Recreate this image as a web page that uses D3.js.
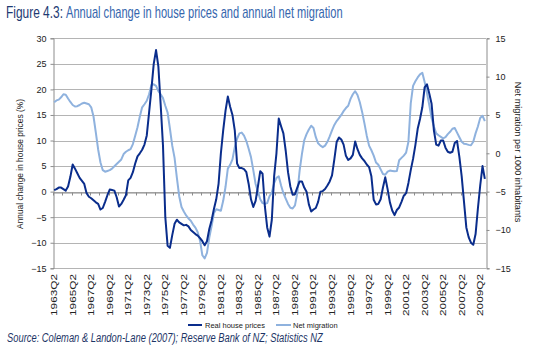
<!DOCTYPE html>
<html><head><meta charset="utf-8">
<script src="https://cdn.jsdelivr.net/npm/d3@7"></script>
<style>body{margin:0;background:#fff}svg{display:block}</style>
</head><body>
<svg id="c" width="540" height="357"></svg>
<script>
const startYear = 1963, startQuarter = 2, nQuarters = 187;
const quarters = [];
for (let k = 0; k < nQuarters; k++) {
  const q = startQuarter - 1 + k;
  quarters.push((startYear + Math.floor(q / 4)) + "Q" + (q % 4 + 1));
}
const xTickLabels = ["1963Q2","1965Q2","1967Q2","1969Q2","1971Q2","1973Q2","1975Q2","1977Q2",
  "1979Q2","1981Q2","1983Q2","1985Q2","1987Q2","1989Q2","1991Q2","1993Q2","1995Q2","1997Q2",
  "1999Q2","2001Q2","2003Q2","2005Q2","2007Q2","2009Q2"];
const leftTicks = [-15,-10,-5,0,5,10,15,20,25,30];
const rightTicks = [-15,-10,-5,0,5,10,15];
const seriesNames = ["Real house prices","Net migration"];

const housePrices = [
  0.3, 0.5, 0.8, 0.8, 0.5, 0.2, 1.0, 2.9, 5.3, 4.5,
  3.6, 2.7, 2.1, 1.5, -0.3, -1.0, -1.3, -1.7, -2.1, -2.4,
  -3.5, -3.2, -2.0, -0.7, 0.4, 0.3, 0.2, -1.1, -2.9, -2.4,
  -1.6, -0.7, 2.2, 2.7, 3.8, 5.5, 6.9, 7.5, 8.2, 9.2,
  11.0, 15.5, 20.0, 25.0, 27.7, 24.5, 17.0, 9.0, -5.0, -10.6,
  -11.0, -8.5, -6.3, -5.5, -6.0, -6.3, -6.6, -6.5, -6.8, -7.5,
  -7.9, -8.3, -8.6, -9.1, -9.7, -10.5, -9.7, -7.3, -5.6, -3.4,
  -1.5, 1.5, 7.5, 12.0, 15.8, 18.6, 16.6, 15.0, 12.0, 5.5,
  4.6, 4.6, 4.4, 3.8, 1.5, -1.5, -3.0, -1.8, 1.0, 4.0,
  3.5, -2.9, -7.0, -8.8, -5.5, 3.0, 7.5, 14.3, 12.8, 11.4,
  8.0, 3.8, 1.0, -0.6, -0.5, 0.8, 2.0, 2.0, 0.8, 0.0,
  -2.5, -3.9, -3.5, -3.2, -2.0, 0.0, 0.1, 0.5, 1.2, 2.0,
  3.2, 6.3, 9.7, 10.6, 10.2, 9.2, 7.0, 6.2, 6.5, 7.2,
  9.8, 8.3, 7.2, 6.5, 6.0, 5.3, 4.8, 3.0, -1.6, -2.5,
  -2.4, -1.5, 0.8, 2.8, 0.5, -2.1, -3.7, -4.6, -3.6, -3.1,
  -2.0, -0.8, -0.3, 1.7, 4.2, 6.4, 9.1, 12.3, 14.2, 16.5,
  20.4, 21.0, 19.2, 17.2, 12.0, 9.2, 9.0, 10.0, 10.0, 8.6,
  7.8, 7.6, 7.8, 9.5, 9.9, 6.8, 3.0, -2.0, -7.0, -8.9,
  -10.0, -10.4, -8.3, -3.3, 1.2, 5.0, 2.5
];
const netMigration = [
  6.65, 6.9, 7.0, 7.3, 7.7, 7.65, 7.15, 6.7, 6.3, 6.1,
  6.15, 6.3, 6.5, 6.6, 6.5, 6.4, 6.0, 4.8, 2.7, 0.5,
  -1.2, -2.2, -2.4, -2.3, -2.2, -2.0, -1.7, -1.4, -1.1, -0.8,
  -0.1, 0.2, 0.4, 0.55, 1.2, 2.3, 3.4, 4.8, 6.0, 6.4,
  6.85, 7.7, 8.9, 9.0, 8.8, 8.1, 7.7, 7.2, 6.2, 5.3,
  3.2, 1.0, -0.6, -3.2, -5.6, -7.0, -7.6, -8.1, -8.5, -8.8,
  -9.3, -9.7, -10.3, -11.4, -13.3, -13.7, -13.0, -11.0, -9.5, -7.8,
  -7.3, -7.4, -7.5, -6.2, -4.4, -2.0, -1.5, -0.8, 0.8, 1.9,
  2.6, 2.7, 2.3, 1.6, 0.6, -0.5, -2.2, -4.0, -5.0, -6.0,
  -6.5, -6.6, -6.5, -5.6, -5.1, -3.9, -3.2, -3.0, -4.2, -5.2,
  -5.9, -6.6, -7.1, -7.2, -6.8, -5.2, -2.3, -0.1, 1.7, 2.5,
  3.1, 3.6, 3.3, 2.1, 1.3, 1.0, 0.8, 1.0, 1.5, 2.2,
  3.0, 3.7, 4.2, 4.6, 5.0, 5.5, 5.9, 6.2, 7.1, 7.7,
  8.1, 7.6, 6.65, 5.4, 3.9, 2.3, 1.0, 0.4, -0.3, -1.2,
  -1.5, -2.1, -2.7, -2.8, -2.4, -2.25, -2.3, -2.35, -2.3, -0.9,
  -0.6, -0.3, 0.1, 1.5, 6.5, 8.8, 9.4, 9.9, 10.3, 10.5,
  9.3, 7.9, 6.3, 4.6, 3.5, 2.6, 2.35, 2.15, 1.95, 2.1,
  2.5, 2.8, 3.2, 3.3, 2.7, 2.1, 1.5, 1.25, 1.2, 1.1,
  1.05, 1.5, 2.6, 3.5, 4.6, 4.9, 4.2
];

const svg = d3.select("#c");
const L = 53, R = 486, T = 38.3, B = 268.3;
const darkCol = "#0a2d8c", lightCol = "#8fb2de";
const gridCol = "#b4b4b4", axisCol = "#8c8c8c";
const fontAxis = "'Liberation Sans', Arial, sans-serif";
const fontNarrow = "'Liberation Sans Narrow', 'Arial Narrow', 'Liberation Sans', sans-serif";

const x = d3.scaleBand().domain(quarters).range([L, R]).paddingInner(0).paddingOuter(0);
const bw = x.bandwidth();
const yL = d3.scaleLinear().domain([-15, 30]).range([B, T]);
const yR = d3.scaleLinear().domain([-15, 15]).range([B, T]);

// gridlines
svg.append("g").selectAll("line").data(leftTicks).join("line")
  .attr("x1", L).attr("x2", R)
  .attr("y1", d => Math.round(yL(d)) + 0.5).attr("y2", d => Math.round(yL(d)) + 0.5)
  .attr("stroke", gridCol).attr("stroke-width", 1);

// left axis
const gL = svg.append("g").attr("transform", `translate(${L + 0.5},0)`)
  .call(d3.axisLeft(yL).tickValues(leftTicks).tickSize(3).tickPadding(4).tickFormat(d3.format("d")));
gL.select(".domain").attr("stroke", axisCol);
gL.selectAll(".tick line").attr("stroke", axisCol);
gL.selectAll("text").attr("font-family", fontAxis).attr("font-size", 9).attr("fill", "#222");

// right axis
const gR = svg.append("g").attr("transform", `translate(${R + 0.5},0)`)
  .call(d3.axisRight(yR).tickValues(rightTicks).tickSize(3).tickPadding(6).tickFormat(d3.format("d")));
gR.select(".domain").attr("stroke", axisCol);
gR.selectAll(".tick line").attr("stroke", axisCol);
gR.selectAll("text").attr("font-family", fontAxis).attr("font-size", 9).attr("fill", "#222");

// category axis at zero
const y0 = Math.round(yL(0)) + 0.5;
const tickQuarters = quarters.filter((q, i) => i % 4 === 0 && i > 0);
const gX = svg.append("g").attr("transform", `translate(0,${y0})`)
  .call(d3.axisBottom(x).tickValues(tickQuarters).tickSize(3).tickFormat(""));
gX.select(".domain").attr("stroke", axisCol);
gX.selectAll(".tick").attr("transform", d => `translate(${Math.round(x(d)) + 0.5},0)`);
gX.selectAll(".tick line").attr("stroke", axisCol);

// category labels (rotated)
svg.append("g").selectAll("text").data(xTickLabels).join("text")
  .attr("transform", d => `translate(${x(d) + bw / 2 + 3},274) rotate(-90)`)
  .attr("text-anchor", "end")
  .attr("font-family", fontAxis).attr("font-size", 9).attr("fill", "#222")
  .attr("textLength", 42).attr("lengthAdjust", "spacingAndGlyphs")
  .text(d => d);

// lines
const lineL = d3.line().x((d, i) => x(quarters[i]) + bw / 2).y(d => yL(d));
const lineR = d3.line().x((d, i) => x(quarters[i]) + bw / 2).y(d => yR(d));
svg.append("path").datum(netMigration).attr("d", lineR)
  .attr("fill", "none").attr("stroke", lightCol).attr("stroke-width", 2).attr("stroke-linejoin", "round");
svg.append("path").datum(housePrices).attr("d", lineL)
  .attr("fill", "none").attr("stroke", darkCol).attr("stroke-width", 2).attr("stroke-linejoin", "round");

// axis titles
svg.append("text").attr("transform", "translate(23,164) rotate(-90)")
  .attr("text-anchor", "middle").attr("font-family", fontAxis).attr("font-size", 8.4).attr("fill", "#222")
  .text("Annual change in house prices (%)");
svg.append("text").attr("transform", "translate(515,152) rotate(90)")
  .attr("text-anchor", "middle").attr("font-family", fontAxis).attr("font-size", 9.2).attr("fill", "#222")
  .text("Net migration per 1000 inhabitants");

// legend
const leg = svg.append("g");
const legItems = [
  {name: seriesNames[0], col: darkCol, x1: 188, x2: 202, tx: 205},
  {name: seriesNames[1], col: lightCol, x1: 276, x2: 291, tx: 293}
];
leg.selectAll("line").data(legItems).join("line")
  .attr("x1", d => d.x1).attr("x2", d => d.x2).attr("y1", 325).attr("y2", 325)
  .attr("stroke", d => d.col).attr("stroke-width", 2);
leg.selectAll("text").data(legItems).join("text")
  .attr("x", d => d.tx).attr("y", 327.5)
  .attr("font-family", fontAxis).attr("font-size", 7.5).attr("fill", "#222")
  .text(d => d.name);

// condensed text helper: horizontally scale a text to a target width
function condensed(txt, x0, y0, size, target, opts) {
  const g = svg.append("g").attr("transform", `translate(${x0},${y0})`);
  const t = g.append("text").attr("x", 0).attr("y", 0)
    .attr("font-family", fontNarrow).attr("font-size", size)
    .attr("fill", opts.fill).attr("font-style", opts.italic ? "italic" : "normal")
    .text(txt);
  const w = t.node().getComputedTextLength();
  g.attr("transform", `translate(${x0},${y0}) scale(${target / w},1)`);
}
condensed("Figure 4.3:", 6, 17.5, 16, 57, {fill: "#1d3a73"});
condensed("Annual change in house prices and annual net migration", 66, 17.5, 16, 277, {fill: "#3566ad"});
condensed("Source: Coleman & Landon-Lane (2007); Reserve Bank of NZ; Statistics NZ", 7, 341.5, 13.5, 316, {fill: "#1d3566", italic: true});
</script>
</body></html>
